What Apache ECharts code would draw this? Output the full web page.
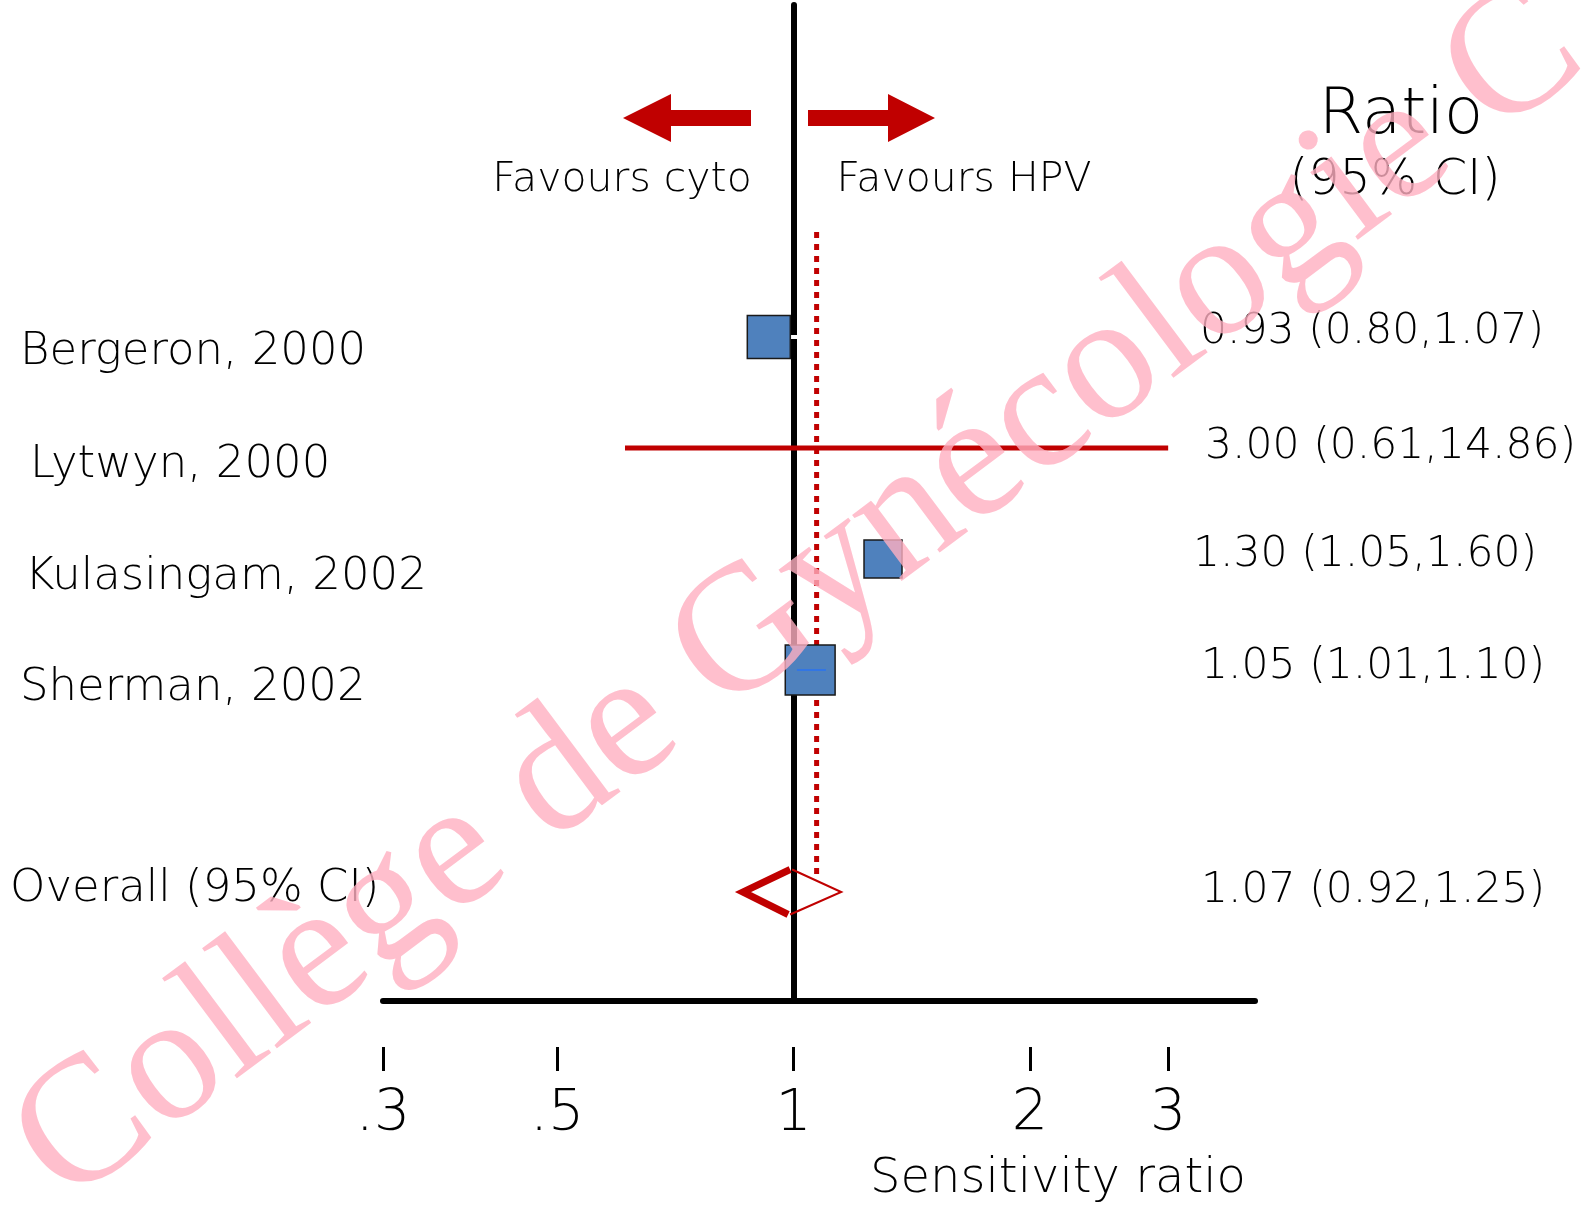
<!DOCTYPE html>
<html>
<head>
<meta charset="utf-8">
<script src="https://cdn.jsdelivr.net/npm/echarts@6/dist/echarts.min.js"></script>
<style>
html,body{margin:0;padding:0;background:#fff;}
#chart{width:1581px;height:1205px;}
</style>
</head>
<body>
<div id="chart"></div>
<script>
// ---------------- data ----------------
const studies = ['Bergeron, 2000', 'Lytwyn, 2000', 'Kulasingam, 2002', 'Sherman, 2002'];
const ratio = [0.93, 3.00, 1.30, 1.05];
const ciLow = [0.80, 0.61, 1.05, 1.01];
const ciHigh = [1.07, 14.86, 1.60, 1.10];
const weightPct = [32, 0, 25, 43];           // relative box area
const overallLabel = 'Overall (95% CI)';
const overall = [1.07, 0.92, 1.25];           // ratio, low, high (as printed)
const diamondDrawn = [0.862, 0.99, 1.15];     // diamond vertices as drawn: left, middle, right
const tickValues = [0.3, 0.5, 1, 2, 3];
const tickLabels = ['.3', '.5', '1', '2', '3'];
const axisMin = 0.3, axisMax = 3.87;
const ciClip = 3;                             // CI drawn up to the largest tick
const axisTitle = 'Sensitivity ratio';
const favLeft = 'Favours cyto', favRight = 'Favours HPV';
const headRatio = 'Ratio', headCI = '(95% CI)';

// ---------------- layout / style ----------------
const OVERALL_ROW = 5;
const RED = '#c00000';
const FONT = '"DejaVu Sans"';
const FW = 200;
const LEFT_X = [20, 30, 25, 20, 10];
const LEFT_DY = [15, 17, 18, 18, -3];
const RIGHT_X = [1200, 1205, 1193, 1201, 1201];
const RIGHT_DY = [-5, -1, -4, -3, -1];
const L = Math.log10;
const fmt = v => v.toFixed(2);

const chart = echarts.init(document.getElementById('chart'), null, {renderer: 'canvas'});

const studyPoints = studies.map((s, i) => [L(ratio[i]), i, weightPct[i]]);
const ciData = studies.map((s, i) => [L(ciLow[i]), i, L(Math.min(ciHigh[i], ciClip)), i]);
const CI_STYLE = [
  {stroke: '#ffffff', lineWidth: 4, layer: 'under'},
  {stroke: RED, lineWidth: 5, layer: 'over'},
  {stroke: '#ffffff', lineWidth: 4, layer: 'under'},
  {stroke: '#1f6fff', lineWidth: 1.2, layer: 'over'}
];

function ciRender(layer) {
  return function (params, api) {
    const i = api.value(3);
    const st = CI_STYLE[i];
    if (st.layer !== layer) return null;
    const a = api.coord([api.value(0), api.value(1)]);
    const b = api.coord([api.value(2), api.value(1)]);
    return {type: 'line', shape: {x1: a[0], y1: a[1], x2: b[0], y2: b[1]},
      style: {stroke: st.stroke, lineWidth: st.lineWidth}};
  };
}

const option = {
  animation: false,
  backgroundColor: '#ffffff',
  grid: {left: 383, right: 326, top: 5, bottom: 204, containLabel: false},
  xAxis: [
    {type: 'value', min: L(axisMin), max: L(axisMax), position: 'bottom',
      axisLine: {show: true, onZero: false, lineStyle: {color: '#000', width: 6}},
      axisTick: {show: false}, axisLabel: {show: false}, splitLine: {show: false}},
    {type: 'value', min: L(axisMin), max: L(axisMax), position: 'bottom', offset: 46,
      axisLine: {show: false, onZero: false},
      axisTick: {show: true, length: 24, customValues: tickValues.map(L), lineStyle: {color: '#000', width: 3}},
      axisLabel: {show: true, customValues: tickValues.map(L), margin: 40,
        fontSize: 57, fontFamily: FONT, fontWeight: FW, color: '#000',
        formatter: v => {
          let best = 0;
          tickValues.forEach((t, k) => { if (Math.abs(L(t) - v) < Math.abs(L(tickValues[best]) - v)) best = k; });
          return tickLabels[best];
        }},
      splitLine: {show: false}}
  ],
  yAxis: {type: 'value', inverse: true, min: -2.991, max: 5.982,
    axisLine: {show: true, onZero: true, onZeroAxisIndex: 0, lineStyle: {color: '#000', width: 6}},
    axisTick: {show: false}, axisLabel: {show: false}, splitLine: {show: false}},
  series: [
    {type: 'custom', name: 'ci-under', z: 2, coordinateSystem: 'cartesian2d',
      encode: {x: [0, 2], y: 1}, data: ciData, renderItem: ciRender('under')},
    {type: 'custom', name: 'overall-line', z: 3, coordinateSystem: 'cartesian2d',
      encode: {x: 0, y: 1}, data: [[L(overall[0]), 0]],
      renderItem: (params, api) => {
        const p = api.coord([api.value(0), 0]);
        const q = api.coord([api.value(0), OVERALL_ROW]);
        return {type: 'line', shape: {x1: p[0], y1: p[1] - 105, x2: p[0], y2: q[1] - 15},
          style: {stroke: RED, lineWidth: 5, lineDash: [6, 6], lineCap: 'butt'}};
      }},
    {type: 'custom', name: 'ci-over-red', z: 4, coordinateSystem: 'cartesian2d',
      encode: {x: [0, 2], y: 1}, data: ciData.filter((d, i) => CI_STYLE[i].stroke === RED),
      renderItem: ciRender('over')},
    {type: 'scatter', name: 'studies', z: 5, symbol: 'rect',
      symbolSize: v => v[2] > 0 ? Math.sqrt(v[2]) * 7.6 : 0,
      itemStyle: {color: '#4f81bd', borderColor: '#1a1a1a', borderWidth: 1.5, opacity: 1},
      data: studyPoints},
    {type: 'custom', name: 'ci-over-blue', z: 6, coordinateSystem: 'cartesian2d',
      encode: {x: [0, 2], y: 1}, data: ciData.filter((d, i) => CI_STYLE[i].layer === 'over' && CI_STYLE[i].stroke !== RED),
      renderItem: ciRender('over')},
    {type: 'custom', name: 'diamond', z: 5, coordinateSystem: 'cartesian2d',
      encode: {x: [0, 1, 2], y: 3}, data: [[L(diamondDrawn[0]), L(diamondDrawn[1]), L(diamondDrawn[2]), OVERALL_ROW]],
      renderItem: (params, api) => {
        const r = api.value(3);
        const lft = api.coord([api.value(0), r]);
        const mid = api.coord([api.value(1), r]);
        const rgt = api.coord([api.value(2), r]);
        const h = 22.5;
        return {type: 'group', children: [
          {type: 'polyline', shape: {points: [[mid[0], mid[1] - h], lft, [mid[0] - 2, mid[1] + h]]},
            style: {stroke: RED, lineWidth: 7, fill: null, lineJoin: 'miter'}},
          {type: 'polyline', shape: {points: [[mid[0] + 2, mid[1] - h], rgt, [mid[0], mid[1] + h]]},
            style: {stroke: RED, lineWidth: 2, fill: null}}
        ]};
      }}
  ]
};
chart.setOption(option);

// ---------------- annotations ----------------
const rowY = r => chart.convertToPixel({yAxisIndex: 0}, r);
const txt = (text, x, y, size, align, extra) => Object.assign({
  type: 'text', z: 50,
  style: {text: text, x: x, y: y, fontSize: size, fontFamily: FONT, fontWeight: FW,
    fill: '#000', align: align || 'left', verticalAlign: 'middle'}
}, extra || {});

const g = [];
const leftNames = studies.concat([overallLabel]);
const rowsAll = studies.map((s, i) => i).concat([OVERALL_ROW]);
const rightTexts = studies.map((s, i) => `${fmt(ratio[i])} (${fmt(ciLow[i])},${fmt(ciHigh[i])})`)
  .concat([`${fmt(overall[0])} (${fmt(overall[1])},${fmt(overall[2])})`]);
leftNames.forEach((n, k) => g.push(txt(n, LEFT_X[k], rowY(rowsAll[k]) + LEFT_DY[k], 45, 'left')));
rightTexts.forEach((t, k) => g.push(txt(t, RIGHT_X[k], rowY(rowsAll[k]) + RIGHT_DY[k], 42.5, 'left')));

g.push(txt(favLeft, 622, 180, 41, 'center'));
g.push(txt(favRight, 964, 180, 41, 'center'));
g.push(txt(headRatio, 1401, 116, 64, 'center'));
g.push(txt(headCI, 1395, 181, 49, 'center'));
g.push(txt(axisTitle, 1058, 1180, 48, 'center'));

// arrows
g.push({type: 'polygon', z: 40, shape: {points: [[623,118],[671,94],[671,110],[751,110],[751,126],[671,126],[671,142]]}, style: {fill: RED}});
g.push({type: 'polygon', z: 40, shape: {points: [[935,118],[888,94],[888,110],[808,110],[808,126],[888,126],[888,142]]}, style: {fill: RED}});

// watermark
g.push({type: 'text', z: 100, x: 800, y: 598, rotation: 36.8 * Math.PI / 180,
  style: {text: 'Collège de Gynécologie C', fontSize: 180, fontFamily: '"Liberation Serif"',
    fill: 'rgba(255,175,193,0.8)', align: 'center', verticalAlign: 'middle'}});

chart.setOption({graphic: g});
</script>
</body>
</html>
